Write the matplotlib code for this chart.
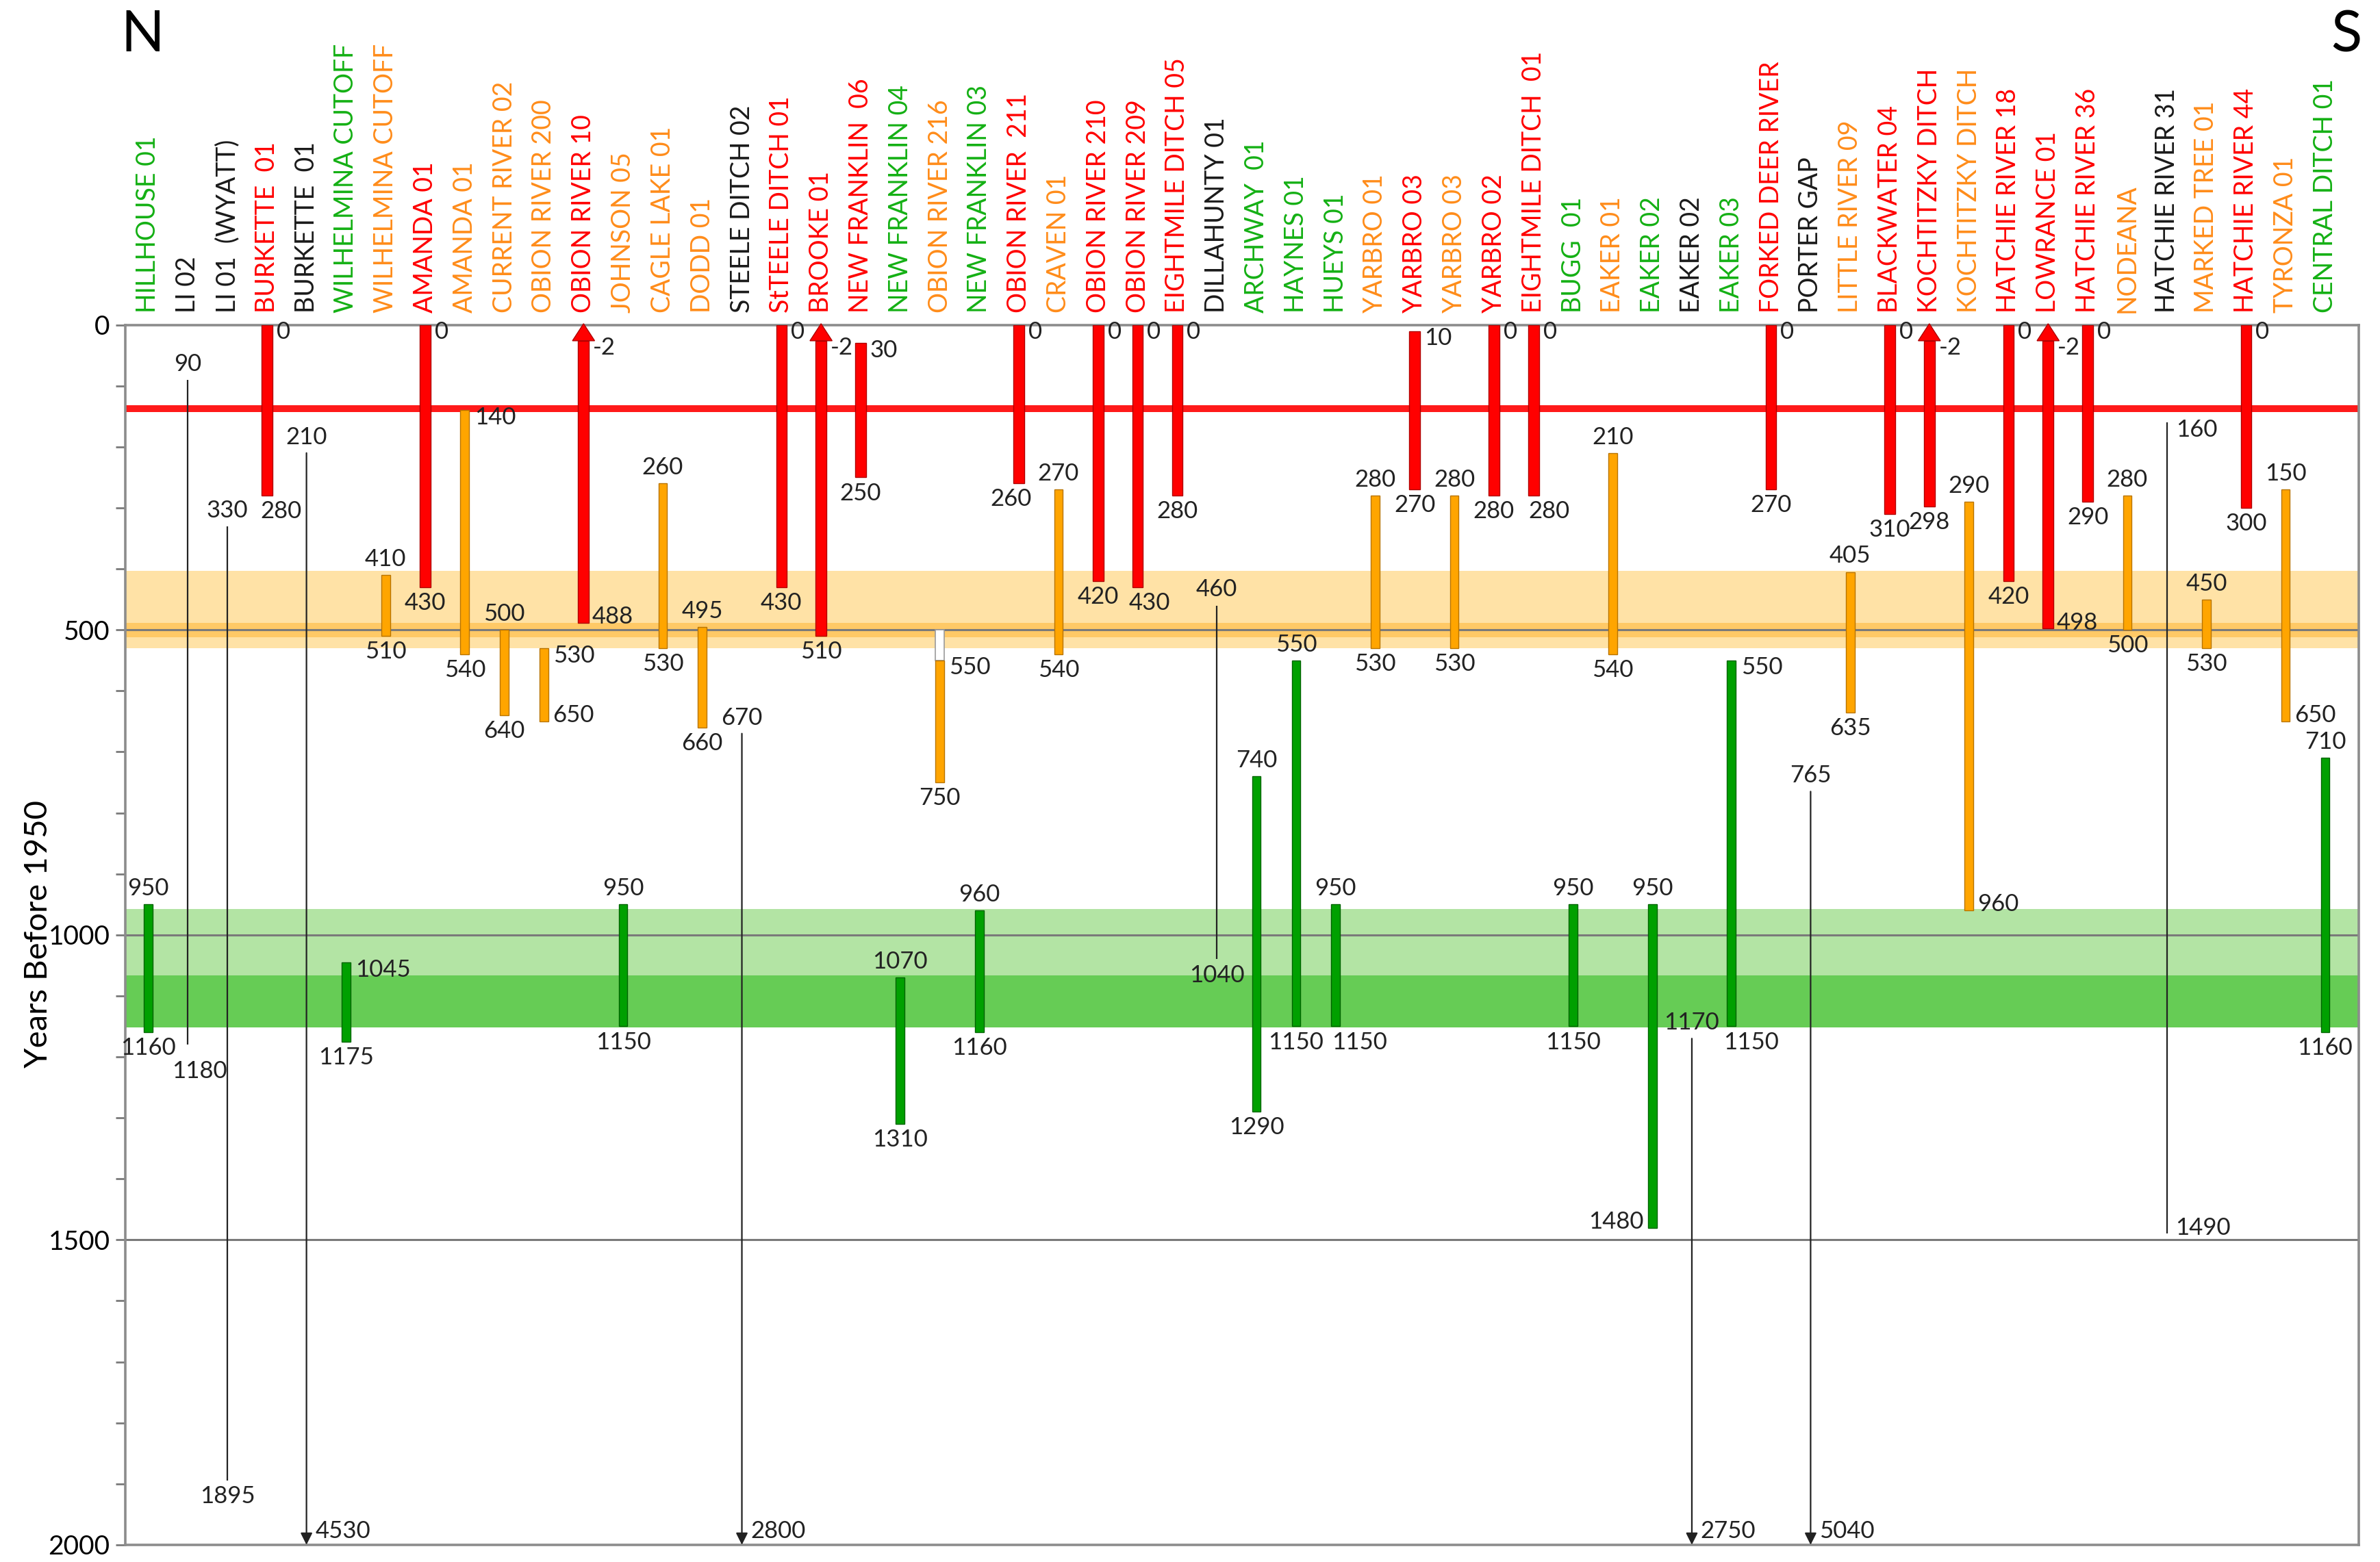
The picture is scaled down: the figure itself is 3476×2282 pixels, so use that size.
import numpy as np
import matplotlib.pyplot as plt
from matplotlib.patches import Polygon

plt.rcParams['font.family'] = ['Lato', 'DejaVu Sans']

# sites from north (left) to south (right)
sites = ['HILLHOUSE 01', 'LI 02', 'LI 01  (WYATT)', 'BURKETTE  01', 'BURKETTE  01',
         'WILHELMINA CUTOFF', 'WILHELMINA CUTOFF', 'AMANDA 01', 'AMANDA 01',
         'CURRENT RIVER 02', 'OBION RIVER 200', 'OBION RIVER 10', 'JOHNSON 05',
         'CAGLE LAKE 01', 'DODD 01', 'STEELE DITCH 02', 'StTEELE DITCH 01', 'BROOKE 01',
         'NEW FRANKLIN  06', 'NEW FRANKLIN 04', 'OBION RIVER 216', 'NEW FRANKLIN 03',
         'OBION RIVER  211', 'CRAVEN 01', 'OBION RIVER 210', 'OBION RIVER 209',
         'EIGHTMILE DITCH 05', 'DILLAHUNTY 01', 'ARCHWAY  01', 'HAYNES 01', 'HUEYS 01',
         'YARBRO 01', 'YARBRO 03', 'YARBRO 03', 'YARBRO 02', 'EIGHTMILE DITCH  01',
         'BUGG  01', 'EAKER 01', 'EAKER 02', 'EAKER 02', 'EAKER 03', 'FORKED DEER RIVER',
         'PORTER GAP', 'LITTLE RIVER 09', 'BLACKWATER 04', 'KOCHTITZKY DITCH',
         'KOCHTITZKY DITCH', 'HATCHIE RIVER 18', 'LOWRANCE 01', 'HATCHIE RIVER 36',
         'NODEANA', 'HATCHIE RIVER 31', 'MARKED TREE 01', 'HATCHIE RIVER 44',
         'TYRONZA 01', 'CENTRAL DITCH 01']

label_group = 'g k k r k g o r o o o r o o o k r r r g o g r o r r r k g g g o r o r r g o g k g r k o r r o r r r o k o r o g'.split()
bar_group   = 'g k k r k g o r o o o r g o o k r r r g o g r o r r r k g g g o r o r r g o g k g r k o r r o r r r o k o r o g'.split()

# age ranges, years before 1950 (-2 = modern, > 2000 = off the chart)
tops = [950, 90, 330, 0, 210, 1045, 410, 0, 140, 500, 530, -2, 950, 260, 495, 670,
        0, -2, 30, 1070, 550, 960, 0, 270, 0, 0, 0, 460, 740, 550, 950, 280, 10, 280,
        0, 0, 950, 210, 950, 1170, 550, 0, 765, 405, 0, -2, 290, 0, -2, 0, 280, 160,
        450, 0, 150, 710]
bots = [1160, 1180, 1895, 280, 4530, 1175, 510, 430, 540, 640, 650, 488, 1150, 530,
        660, 2800, 430, 510, 250, 1310, 750, 1160, 260, 540, 420, 430, 280, 1040, 1290,
        1150, 1150, 530, 270, 530, 280, 280, 1150, 540, 1480, 2750, 1150, 270, 5040,
        635, 310, 298, 960, 420, 498, 290, 500, 1490, 530, 300, 650, 1160]
obion216_open = 500   # unshaded part of OBION RIVER 216 starts here
bar_start = {54: 270}  # TYRONZA 01 bar is drawn from 270 although labelled 150

quake_1812 = 137
orange_band = (403, 530)
orange_core = (489, 512)
green_light = (958, 1067)
green_dark = (1067, 1152)

# where the numbers go: c = centred, r = right, l = left
top_pos = 'c c c r c r c r r c r r c c c c r r r c r c r c r r r c c c c c r c r r c c c c r r c c r r c r r r c r c r c c'.split()
bot_pos = 'c c c c r c c c c c r r c c c r c c c c c c c c c c c c c c c c c c c c c c l r c c r c c c r c r c c r c c r c'.split()
# small nudges for crowded lower numbers (columns, years)
bot_nudge = {1: (0.3, 18), 3: (0.35, 0), 22: (-0.2, 0), 25: (0.3, 0), 30: (0.6, 0),
             35: (0.4, 0), 40: (0.5, 0)}

label_col = {'r': '#FF0000', 'o': '#FF8C1A', 'g': '#14B014', 'k': '#1A1A1A'}
bar_col = {'r': '#FF0000', 'o': '#FFA500', 'g': '#00A000'}
edge_col = {'r': '#B00000', 'o': '#B87400', 'g': '#006400'}
bar_w = {'r': 0.27, 'o': 0.22, 'g': 0.22}

fig = plt.figure(figsize=(17.38, 11.41), dpi=200)
ax = fig.add_axes([0.0526, 0.011, 0.9385, 0.781])
n = len(sites)
ax.set_xlim(-0.58, 55.85)
ax.set_ylim(2000, 0)

ax.axhspan(*orange_band, color='#FFE2A6', lw=0, zorder=0)
ax.axhspan(*orange_core, color='#FFC966', lw=0, zorder=0)
ax.axhspan(*green_light, color='#B3E4A4', lw=0, zorder=0)
ax.axhspan(*green_dark, color='#66CC55', lw=0, zorder=0)
for yy in [500, 1000, 1500]:
    ax.axhline(yy, color='#7a7a7a', lw=1.1, zorder=1)
ax.axhline(quake_1812, color='#FF1A1A', lw=3.6, zorder=2)

NUM = 12.5
TXT = '#222222'
for i in range(n):
    top, bot, kind = tops[i], bots[i], bar_group[i]
    ytop = bar_start.get(i, top)
    if kind == 'k':
        if bot > 2000:
            ax.annotate('', xy=(i, 2000), xytext=(i, top),
                        arrowprops=dict(arrowstyle='-|>', color='#222222', lw=0.8,
                                        mutation_scale=13, shrinkA=0, shrinkB=0), zorder=3)
        else:
            ax.vlines(i, top, bot, color='#222222', lw=0.8, zorder=3)
    else:
        w = bar_w[kind]
        y0 = ytop
        if top < 0:
            y0 = top + 28
            ax.add_patch(Polygon([[i - 0.28, y0], [i + 0.28, y0], [i, top]], closed=True,
                                 facecolor=bar_col[kind], edgecolor=edge_col[kind],
                                 lw=0.5, zorder=4, clip_on=False))
        if i == 20:
            ax.bar(i, top - obion216_open, bottom=obion216_open, width=w, color='white',
                   edgecolor='#999999', lw=0.6, zorder=4)
        ax.bar(i, bot - y0, bottom=y0, width=w, color=bar_col[kind],
               edgecolor=edge_col[kind], lw=0.5, zorder=4)

    # number labels
    tp = top_pos[i]
    if tp == 'c':
        ax.text(i, ytop - 8, str(top), ha='center', va='bottom', fontsize=NUM, color=TXT)
    else:
        yt = top + 22 if top < 0 else top - 6
        ax.text(i + 0.24, yt, str(top), ha='left', va='top', fontsize=NUM, color=TXT)
    bp = bot_pos[i]
    dx, dy = bot_nudge.get(i, (0, 0))
    if bp == 'c':
        ax.text(i + dx, bot + 8 + dy, str(bot), ha='center', va='top', fontsize=NUM, color=TXT)
    elif bp == 'r':
        yc = 1978 if bot > 2000 else bot - 10
        ax.text(i + 0.22, yc, str(bot), ha='left', va='center', fontsize=NUM, color=TXT)
    else:
        ax.text(i - 0.22, bot - 10, str(bot), ha='right', va='center', fontsize=NUM, color=TXT)

    # site names
    ax.text(i, 1.01, sites[i], transform=ax.get_xaxis_transform(), rotation=90,
            ha='center', va='bottom', fontsize=13.5, color=label_col[label_group[i]])

ax.set_xticks([])
ax.set_yticks([0, 500, 1000, 1500, 2000])
ax.set_yticks(np.arange(0, 2001, 100), minor=True)
ax.tick_params(axis='y', which='both', direction='out', length=5, width=1, color='#7a7a7a',
               labelsize=14, pad=3)
for s in ax.spines.values():
    s.set_color('#8c8c8c')
    s.set_linewidth(1.3)

fig.text(0.016, 0.402, 'Years Before 1950', rotation=90, ha='center', va='center', fontsize=17)
fig.text(0.060, 0.977, 'N', ha='center', va='center', fontsize=30)
fig.text(0.986, 0.977, 'S', ha='center', va='center', fontsize=30)

fig.savefig('out.png', dpi=200)
